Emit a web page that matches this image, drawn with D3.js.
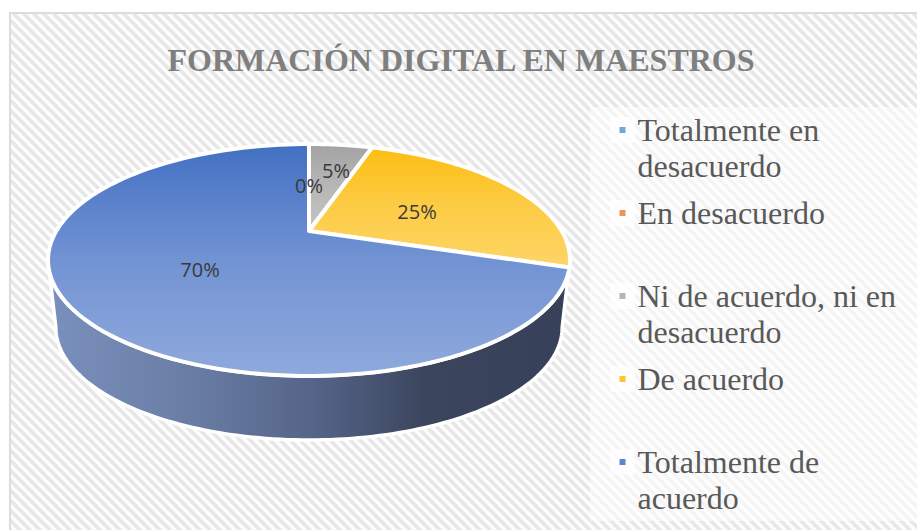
<!DOCTYPE html>
<html><head><meta charset="utf-8">
<script src="https://cdn.jsdelivr.net/npm/d3@7"></script>
<style>html,body{margin:0;padding:0;background:#fff;overflow:hidden}svg{display:block}</style>
</head><body><svg id="c" width="917" height="530"></svg>
<script>
const chartTitle = "FORMACIÓN DIGITAL EN MAESTROS";
const categories = ["Totalmente en desacuerdo","En desacuerdo","Ni de acuerdo, ni en desacuerdo","De acuerdo","Totalmente de acuerdo"];
const values = [0,0,5,25,70];
const valueLabels = ["0%","0%","5%","25%","70%"];
const legendLines = [["Totalmente en","desacuerdo"],["En desacuerdo"],["Ni de acuerdo, ni en","desacuerdo"],["De acuerdo"],["Totalmente de","acuerdo"]];
const markerColors = ["#6fa8dc","#f0935a","#b5b5b5","#ffc233","#5f83cf"];
const gradTop = ["#5b9bd5","#ed7d31","#a3a3a3","#fdbd12","#4370c3"];
const gradBottom = ["#9dc3e6","#f4b183","#c4c4c4","#fdd566","#8fa9dc"];

const W=917,H=530;
const svg=d3.select("#c");
const defs=svg.append("defs");
// hatch
const pat=defs.append("pattern").attr("id","hatch").attr("patternUnits","userSpaceOnUse")
  .attr("width",10).attr("height",10);
pat.append("rect").attr("width",10).attr("height",10).attr("fill","#fdfdfd");
pat.append("path").attr("d","M-5,-5L15,15M-5,5L5,15M5,-5L15,5")
  .attr("stroke","#e7e7e7").attr("stroke-width",3.6).attr("fill","none");
svg.append("rect").attr("width",W).attr("height",H).attr("fill","#fff");
svg.append("rect").attr("x",10).attr("y",13).attr("width",W).attr("height",H).attr("fill","url(#hatch)")
  .attr("stroke","#dcdcdc").attr("stroke-width",2);
// paler hatch behind the legend
svg.append("rect").attr("x",590).attr("y",107).attr("width",327).attr("height",414).attr("fill","#fff").attr("opacity",0.55);

// perspective projection of the pie's disc
const cx=309, a=252.7, b=108.75, k=-0.25;
function proj(theta, y0, s){
  const u=Math.sin(theta), v=-Math.cos(theta), w=1+k*v;
  return [cx+s*a*u/w, y0+s*b*v/w];
}
const Y0=231, Y1=299.4, S1=0.97;
const line=d3.line().curve(d3.curveLinear);
const tau=Math.PI*2;
const samples=(t0,t1,n=120)=>d3.range(n+1).map(i=>t0+(t1-t0)*i/n);

// side wall
const wallGrad=defs.append("linearGradient").attr("id","wall").attr("gradientUnits","userSpaceOnUse")
  .attr("x1",48).attr("x2",570).attr("y1",0).attr("y2",0);
[[0,"#7a90bd"],[0.25,"#6b7fa6"],[0.5,"#56658a"],[0.72,"#3b465e"],[1,"#364159"]].forEach(d=>
  wallGrad.append("stop").attr("offset",d[0]).attr("stop-color",d[1]));
const tL=Math.acos(-0.25), tR=tau-tL;
const wallPts=samples(tL,tR).map(t=>proj(t,Y0,1)).concat(samples(tR,tL).map(t=>proj(t,Y1,S1)));
svg.append("path").attr("d",line(wallPts)+"Z").attr("fill","url(#wall)")
  .attr("stroke","#fff").attr("stroke-width",3.5).attr("stroke-linejoin","round");

// top face
const pie=d3.pie().sort(null).value(d=>d);
const arcs=pie(values);
arcs.forEach((d,i)=>{
  if(d.endAngle-d.startAngle<1e-6) return;
  const pts=samples(d.startAngle,d.endAngle).map(t=>proj(t,Y0,1));
  const full=[[cx,Y0],...pts];
  const ys=full.map(p=>p[1]);
  const g=defs.append("linearGradient").attr("id","g"+i).attr("gradientUnits","userSpaceOnUse")
    .attr("x1",0).attr("x2",0).attr("y1",d3.min(ys)).attr("y2",d3.max(ys));
  g.append("stop").attr("offset",0).attr("stop-color",gradTop[i]);
  g.append("stop").attr("offset",0.5).attr("stop-color",d3.interpolateRgb(gradTop[i],gradBottom[i])(0.62));
  g.append("stop").attr("offset",1).attr("stop-color",gradBottom[i]);
  svg.append("path").attr("d",line(full)+"Z").attr("fill",`url(#g${i})`)
    .attr("stroke","#fff").attr("stroke-width",4).attr("stroke-linejoin","round");
});

// data labels
const labelPos=[null,[309,186],[336,171],[417,212],[200,270]];
const labelFont="'Open Sans',sans-serif";
arcs.forEach((d,i)=>{
  if(!labelPos[i]) return;
  svg.append("text").attr("x",labelPos[i][0]).attr("y",labelPos[i][1]).attr("dy","0.35em")
    .attr("text-anchor","middle").attr("font-family",labelFont).attr("font-size",20)
    .attr("fill","#3a3a3a").text(valueLabels[i]);
});

// title
svg.append("text").attr("x",461).attr("y",71).attr("text-anchor","middle")
  .attr("font-family","'Liberation Serif',serif").attr("font-weight","bold").attr("font-size",32)
  .attr("fill","#7f7f7f").text(chartTitle);

// legend
const legendY=d3.scalePoint().domain(d3.range(categories.length)).range([130,462]);
categories.forEach((c,i)=>{
  const y=legendY(i);
  const g=svg.append("g");
  g.append("rect").attr("x",610).attr("y",y-13).attr("width",25).attr("height",26).attr("rx",2).attr("fill","#fff").attr("opacity",0.75);
  g.append("rect").attr("x",619.5).attr("y",y-3).attr("width",6).attr("height",6).attr("fill",markerColors[i]);
  legendLines[i].forEach((t,j)=>{
    g.append("text").attr("x",637.5).attr("y",y+11+j*36).attr("font-family","'Liberation Serif',serif")
      .attr("font-size",32).attr("fill","#595959").text(t);
  });
});
</script></body></html>
